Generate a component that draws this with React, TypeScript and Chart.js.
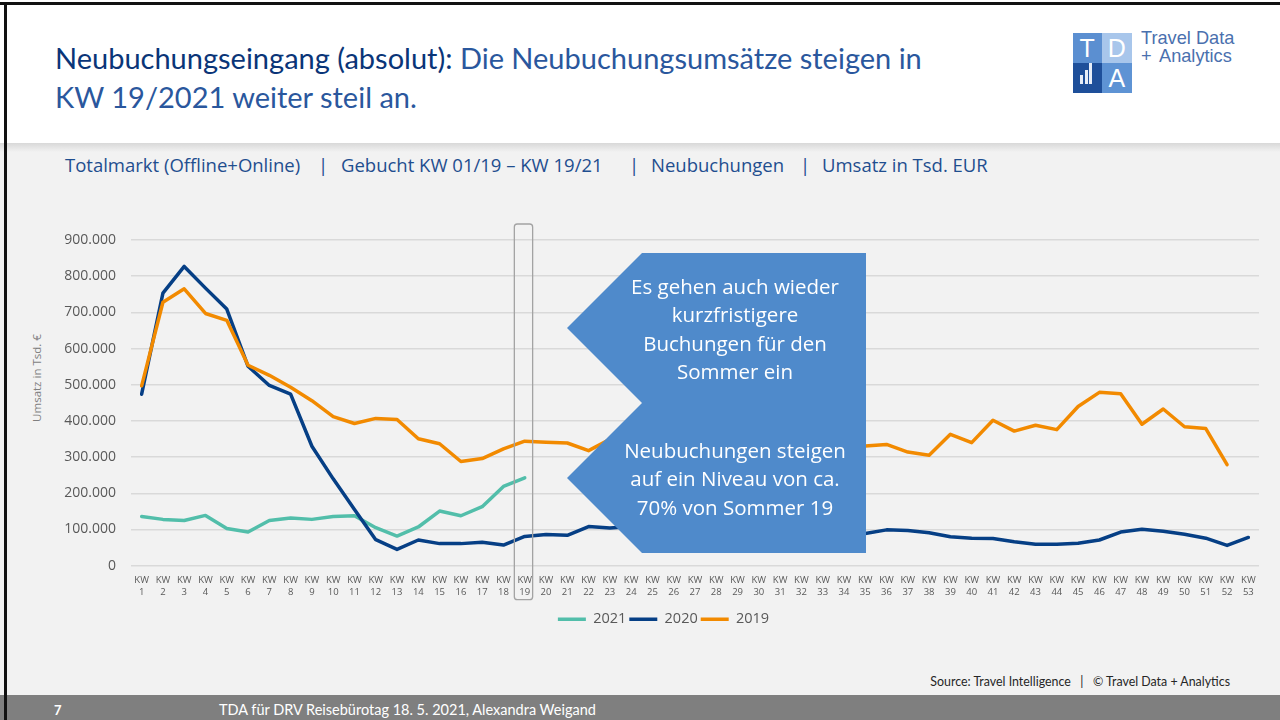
import React, { useEffect, useRef } from "react";
import { Chart, registerables } from "chart.js";

Chart.register(...registerables);

// ---------- DATA ----------
const weekNumbers = [
  "1", "2", "3", "4", "5", "6", "7", "8", "9", "10",
  "11", "12", "13", "14", "15", "16", "17", "18", "19", "20",
  "21", "22", "23", "24", "25", "26", "27", "28", "29", "30",
  "31", "32", "33", "34", "35", "36", "37", "38", "39", "40",
  "41", "42", "43", "44", "45", "46", "47", "48", "49", "50",
  "51", "52", "53",
];
const categories = weekNumbers.map((w) => ["KW", w]);

const seriesLabels = ["2021", "2020", "2019"];

const values2021 = [
  136000, 128000, 125000, 139000, 103000, 93000, 125000, 132000, 128000, 136000,
  138000, 105000, 82000, 107000, 151000, 138000, 163000, 219000, 243000,
];

const values2020 = [
  474000, 753000, 827000, 767000, 709000, 551000, 498000, 474000, 330000, 240000,
  155000, 72000, 45000, 71000, 61000, 61000, 65000, 57000, 81000, 86000,
  84000, 108000, 104000, 108000, 112000, 118000, 115000, 110000, 104000, 100000,
  96000, 92000, 88000, 86000, 89000, 99000, 97000, 91000, 80000, 76000,
  75000, 66000, 59000, 59000, 62000, 71000, 93000, 101000, 95000, 87000,
  76000, 56000, 78000,
];

const values2019 = [
  497000, 728000, 765000, 697000, 678000, 554000, 526000, 493000, 456000, 412000,
  393000, 407000, 404000, 351000, 337000, 288000, 296000, 323000, 344000, 341000,
  339000, 318000, 349000, 360000, 368000, 362000, 355000, 350000, 345000, 340000,
  338000, 335000, 332000, 330000, 331000, 335000, 314000, 305000, 363000, 340000,
  402000, 372000, 388000, 376000, 440000, 479000, 475000, 391000, 433000, 384000,
  379000, 279000,
];

const yMax = 900000;
const yStep = 100000;
const highlightWeek = "19";

// ---------- STYLE ----------
const COLOR_2021 = "#52BEAA";
const COLOR_2020 = "#063F85";
const COLOR_2019 = "#F28A00";
const TICK_COLOR = "#595959";

const fmtThousands = (v: number) =>
  String(Math.round(v)).replace(/\B(?=(\d{3})+(?!\d))/g, ".");

const highlightPlugin = {
  id: "kwHighlight",
  afterDraw(chart: any) {
    const { ctx, chartArea, scales } = chart;
    const idx = weekNumbers.indexOf(highlightWeek);
    const cx = scales.x.getPixelForValue(idx);
    const left = cx - 10.4;
    const right = cx + 7.9;
    const top = chartArea.top - 16;
    const bottom = chartArea.bottom + 34;
    ctx.save();
    ctx.strokeStyle = "#a3a3a3";
    ctx.lineWidth = 1.3;
    ctx.beginPath();
    if (ctx.roundRect) ctx.roundRect(left, top, right - left, bottom - top, 3);
    else ctx.rect(left, top, right - left, bottom - top);
    ctx.stroke();
    ctx.restore();
  },
};

const legendShiftPlugin = {
  id: "legendShift",
  afterLayout(chart: any) {
    const lg = chart.legend;
    if (lg) {
      lg.left += 8;
      lg.right += 8;
    }
  },
};

function LineChart() {
  const ref = useRef<HTMLCanvasElement>(null);
  useEffect(() => {
    if (!ref.current) return;
    Chart.defaults.font.family = "'Open Sans', sans-serif";
    const mk = (label: string, data: number[], color: string, order: number) => ({
      label,
      data,
      borderColor: color,
      backgroundColor: color,
      borderWidth: 3.5,
      pointRadius: 0,
      pointHoverRadius: 0,
      tension: 0,
      borderCapStyle: "round" as const,
      borderJoinStyle: "round" as const,
      fill: false,
      order,
    });
    const chart = new Chart(ref.current, {
      type: "line",
      data: {
        labels: categories,
        datasets: [
          mk(seriesLabels[0], values2021, COLOR_2021, 3),
          mk(seriesLabels[1], values2020, COLOR_2020, 2),
          mk(seriesLabels[2], values2019, COLOR_2019, 1),
        ],
      },
      options: {
        animation: false,
        responsive: false,
        maintainAspectRatio: false,
        devicePixelRatio: 1,
        events: [],
        layout: { padding: { top: 40, right: 21, bottom: 3.5, left: 0 } },
        plugins: {
          legend: {
            position: "bottom",
            labels: {
              usePointStyle: true,
              pointStyle: "line",
              pointStyleWidth: 28,
              padding: 3,
              color: TICK_COLOR,
              font: { family: "'Open Sans', sans-serif", size: 14.5 },
              sort: (a: any, b: any) => a.datasetIndex - b.datasetIndex,
            },
          },
          tooltip: { enabled: false },
          title: { display: false },
        },
        scales: {
          x: {
            offset: true,
            grid: { display: false, drawTicks: false },
            border: { display: false },
            ticks: {
              autoSkip: false,
              maxRotation: 0,
              minRotation: 0,
              padding: 8,
              color: TICK_COLOR,
              font: { family: "'Open Sans', sans-serif", size: 9.5, lineHeight: 1.3 },
            },
            afterFit: (s: any) => {
              s.height = 43.3;
            },
          },
          y: {
            min: 0,
            max: yMax,
            grid: { color: "#d9d9d9", lineWidth: 1.5, drawTicks: false },
            border: { display: false },
            ticks: {
              stepSize: yStep,
              padding: 15,
              color: TICK_COLOR,
              font: { family: "'Open Sans', sans-serif", size: 14 },
              callback: (v: any) => fmtThousands(Number(v)),
            },
            afterFit: (s: any) => {
              s.width = 79;
            },
          },
        },
      },
      plugins: [highlightPlugin, legendShiftPlugin],
    });
    return () => chart.destroy();
  }, []);
  return (
    <canvas
      ref={ref}
      width={1228}
      height={440}
      style={{ position: "absolute", left: 52, top: 200, width: 1228, height: 440 }}
    />
  );
}

const abs = (s: React.CSSProperties): React.CSSProperties => ({ position: "absolute", ...s });

export default function App() {
  const calloutPoly =
    "polygon(75px 0px, 299px 0px, 299px 300px, 75px 300px, 0px 225px, 75px 150px, 0px 75px)";
  const subSeg: React.CSSProperties = {
    position: "absolute",
    top: 153,
    lineHeight: "24px",
    fontFamily: "'Open Sans', sans-serif",
    fontSize: 18.5,
    color: "#1f4e8f",
    whiteSpace: "nowrap",
  };
  const logoText: React.CSSProperties = {
    position: "absolute",
    lineHeight: "18px",
    fontFamily: "'Liberation Sans', sans-serif",
    fontSize: 18.2,
    color: "#4a70ae",
    whiteSpace: "nowrap",
  };
  return (
    <div
      style={{
        position: "fixed",
        left: 0,
        top: 0,
        width: 1280,
        height: 720,
        overflow: "hidden",
        background: "#ffffff",
        fontFamily: "Lato, sans-serif",
      }}
    >
      {/* gray content area */}
      <div style={abs({ left: 0, top: 143, width: 1280, height: 552, background: "#f2f2f2" })} />
      <div
        style={abs({
          left: 0,
          top: 143,
          width: 1280,
          height: 9,
          background: "linear-gradient(#d8d8d8, #f2f2f2)",
        })}
      />
      {/* footer */}
      <div style={abs({ left: 0, top: 695, width: 1280, height: 25, background: "#7f7f7f" })} />
      {/* frame lines */}
      <div style={abs({ left: 0, top: 2, width: 1280, height: 3, background: "#111" })} />
      <div style={abs({ left: 4, top: 2, width: 3, height: 718, background: "#111" })} />

      {/* title */}
      <div
        style={abs({
          left: 55,
          top: 38,
          lineHeight: "39px",
          fontSize: 29,
          fontFamily: "Lato, sans-serif",
          color: "#2a579d",
          whiteSpace: "nowrap",
        })}
      >
        <span style={{ color: "#0a3578" }}>Neubuchungseingang (absolut):</span> Die
        Neubuchungsumsätze steigen in
        <br />
        KW 19/2021 weiter steil an.
      </div>

      {/* logo */}
      <div style={abs({ left: 1072.5, top: 32.5, width: 29.5, height: 30, background: "#5b8fd1" })} />
      <div style={abs({ left: 1102, top: 32.5, width: 29.5, height: 30, background: "#a8c6eb" })} />
      <div style={abs({ left: 1072.5, top: 62.5, width: 29.5, height: 30, background: "#1e4f9a" })} />
      <div style={abs({ left: 1102, top: 62.5, width: 29.5, height: 30, background: "#5e93d4" })} />
      {[
        ["T", 1072.5, 32.5],
        ["D", 1102, 32.5],
        ["A", 1102, 62.5],
      ].map(([t, x, y]) => (
        <div
          key={String(t)}
          style={abs({
            left: Number(x),
            top: Number(y),
            width: 29.5,
            height: 30,
            lineHeight: "30px",
            textAlign: "center",
            color: "#ffffff",
            fontFamily: "'Liberation Sans', sans-serif",
            fontWeight: 300,
            fontSize: 25,
          })}
        >
          {t}
        </div>
      ))}
      <div style={abs({ left: 1080, top: 75, width: 3, height: 9, background: "#e8eef8" })} />
      <div style={abs({ left: 1084.5, top: 70, width: 3, height: 14, background: "#e8eef8" })} />
      <div style={abs({ left: 1089, top: 63, width: 3, height: 21, background: "#e8eef8" })} />
      <div style={{ ...logoText, left: 1141, top: 29 }}>Travel Data</div>
      <div style={{ ...logoText, left: 1141, top: 46.5 }}>+</div>
      <div style={{ ...logoText, left: 1159, top: 46.5 }}>Analytics</div>

      {/* subtitle */}
      <div style={{ ...subSeg, left: 65 }}>Totalmarkt (Offline+Online)</div>
      <div style={{ ...subSeg, left: 318 }}>|</div>
      <div style={{ ...subSeg, left: 341 }}>Gebucht KW 01/19 – KW 19/21</div>
      <div style={{ ...subSeg, left: 629 }}>|</div>
      <div style={{ ...subSeg, left: 651 }}>Neubuchungen</div>
      <div style={{ ...subSeg, left: 800 }}>|</div>
      <div style={{ ...subSeg, left: 822 }}>Umsatz in Tsd. EUR</div>

      {/* y-axis title */}
      <div
        style={abs({
          left: 36,
          top: 378,
          transform: "translate(-50%, -50%) rotate(-90deg)",
          whiteSpace: "nowrap",
          fontFamily: "'Open Sans', sans-serif",
          fontSize: 11.5,
          color: "#7f7f7f",
        })}
      >
        Umsatz in Tsd. €
      </div>

      <LineChart />

      {/* callout */}
      <div
        style={abs({
          left: 567,
          top: 253,
          width: 299,
          height: 300,
          background: "#4f8acb",
          clipPath: calloutPoly,
        })}
      />
      <div
        style={abs({
          left: 585,
          top: 271.5,
          width: 300,
          textAlign: "center",
          lineHeight: "28.6px",
          fontFamily: "'Open Sans', sans-serif",
          fontSize: 20.5,
          color: "#ffffff",
        })}
      >
        Es gehen auch wieder
        <br />
        kurzfristigere
        <br />
        Buchungen für den
        <br />
        Sommer ein
      </div>
      <div
        style={abs({
          left: 585,
          top: 435.7,
          width: 300,
          textAlign: "center",
          lineHeight: "28.6px",
          fontFamily: "'Open Sans', sans-serif",
          fontSize: 20.5,
          color: "#ffffff",
        })}
      >
        Neubuchungen steigen
        <br />
        auf ein Niveau von ca.
        <br />
        70% von Sommer 19
      </div>

      {/* source */}
      <div
        style={abs({
          right: 50,
          top: 674,
          lineHeight: "16px",
          fontFamily: "Lato, sans-serif",
          fontSize: 12.4,
          color: "#262626",
          whiteSpace: "pre",
        })}
      >
        {"Source: Travel Intelligence   |   © Travel Data + Analytics"}
      </div>

      {/* footer texts */}
      <div
        style={abs({
          left: 54,
          top: 700,
          lineHeight: "20px",
          fontFamily: "Lato, sans-serif",
          fontWeight: 700,
          fontSize: 13,
          color: "#ffffff",
        })}
      >
        7
      </div>
      <div
        style={abs({
          left: 219,
          top: 700,
          lineHeight: "20px",
          fontFamily: "Lato, sans-serif",
          fontSize: 14.5,
          color: "#ffffff",
          whiteSpace: "nowrap",
        })}
      >
        TDA für DRV Reisebürotag 18. 5. 2021, Alexandra Weigand
      </div>
    </div>
  );
}
